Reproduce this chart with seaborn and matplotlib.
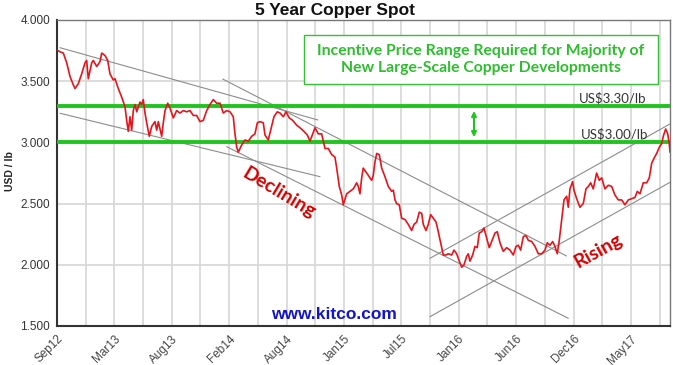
import matplotlib
matplotlib.use("Agg")
import matplotlib.pyplot as plt
from matplotlib.patches import Rectangle
import seaborn as sns

# time axis in "label steps" (0 = Sep12, 1 = Mar13, ... 10 = May17), price in USD/lb
t = [0.000, 0.052, 0.110, 0.169, 0.226, 0.284, 0.314, 0.371, 0.430, 0.488, 0.517, 0.545,
     0.605, 0.632, 0.692, 0.749, 0.779, 0.836, 0.883, 0.923, 0.981, 1.010, 1.068, 1.127,
     1.185, 1.214, 1.242, 1.272, 1.301, 1.329, 1.359, 1.389, 1.446, 1.476, 1.503, 1.533,
     1.563, 1.608, 1.650, 1.707, 1.737, 1.765, 1.824, 1.852, 1.882, 1.929, 1.969, 2.026,
     2.085, 2.143, 2.200, 2.260, 2.317, 2.375, 2.434, 2.491, 2.549, 2.608, 2.666, 2.723,
     2.782, 2.840, 2.897, 2.956, 3.014, 3.071, 3.101, 3.131, 3.159, 3.218, 3.275, 3.333,
     3.392, 3.449, 3.490, 3.537, 3.594, 3.624, 3.681, 3.723, 3.780, 3.838, 3.885, 3.943,
     3.990, 4.047, 4.106, 4.176, 4.233, 4.303, 4.361, 4.408, 4.455, 4.495, 4.552, 4.611,
     4.669, 4.726, 4.786, 4.843, 4.873, 4.918, 4.960, 4.988, 5.047, 5.105, 5.162, 5.221,
     5.249, 5.279, 5.308, 5.336, 5.395, 5.453, 5.483, 5.510, 5.540, 5.570, 5.615, 5.657,
     5.714, 5.772, 5.831, 5.859, 5.889, 5.918, 5.963, 6.005, 6.063, 6.120, 6.179, 6.220,
     6.267, 6.312, 6.354, 6.382, 6.429, 6.469, 6.510, 6.556, 6.603, 6.643, 6.685, 6.730,
     6.777, 6.817, 6.876, 6.916, 6.963, 7.009, 7.051, 7.091, 7.138, 7.166, 7.195, 7.242,
     7.282, 7.322, 7.357, 7.399, 7.439, 7.486, 7.531, 7.573, 7.631, 7.671, 7.718, 7.775,
     7.834, 7.892, 7.950, 7.997, 8.037, 8.078, 8.124, 8.171, 8.211, 8.270, 8.328, 8.385,
     8.444, 8.502, 8.542, 8.589, 8.636, 8.676, 8.716, 8.751, 8.793, 8.833, 8.880, 8.908,
     8.937, 8.984, 9.007, 9.054, 9.111, 9.169, 9.216, 9.256, 9.298, 9.343, 9.402, 9.448,
     9.490, 9.547, 9.605, 9.664, 9.721, 9.779, 9.838, 9.895, 9.953, 10.012, 10.070, 10.110,
     10.157, 10.214, 10.273, 10.319, 10.361, 10.401, 10.448, 10.493, 10.535, 10.563, 10.605,
     10.640, 10.667, 10.681]
price = [3.755, 3.74, 3.73, 3.65, 3.54, 3.47, 3.44, 3.48, 3.56, 3.65, 3.67, 3.52,
         3.65, 3.67, 3.62, 3.66, 3.73, 3.71, 3.67, 3.56, 3.51, 3.52, 3.44, 3.37,
         3.29, 3.18, 3.09, 3.21, 3.10, 3.26, 3.31, 3.25, 3.33, 3.31, 3.35, 3.24,
         3.16, 3.05, 3.13, 3.17, 3.10, 3.17, 3.05, 3.16, 3.26, 3.32, 3.28, 3.20,
         3.26, 3.24, 3.26, 3.25, 3.26, 3.22, 3.22, 3.17, 3.18, 3.26, 3.31, 3.35,
         3.32, 3.32, 3.24, 3.26, 3.25, 3.21, 3.07, 2.96, 2.92, 2.98, 3.02, 3.01,
         3.05, 3.07, 3.16, 3.17, 3.16, 3.06, 3.02, 3.10, 3.21, 3.25, 3.24, 3.21,
         3.25, 3.20, 3.18, 3.14, 3.12, 3.09, 3.06, 3.01, 3.07, 3.12, 3.07, 3.07,
         2.95, 2.95, 2.90, 2.88, 2.79, 2.64, 2.57, 2.49, 2.58, 2.60, 2.62, 2.67,
         2.64, 2.58, 2.71, 2.79, 2.75, 2.71, 2.69, 2.73, 2.84, 2.91, 2.90, 2.79,
         2.72, 2.64, 2.60, 2.61, 2.53, 2.50, 2.49, 2.38, 2.37, 2.33, 2.28, 2.33,
         2.35, 2.43, 2.42, 2.33, 2.28, 2.33, 2.41, 2.38, 2.35, 2.27, 2.18, 2.08,
         2.08, 2.09, 2.08, 2.12, 2.09, 2.03, 1.98, 2.00, 2.07, 2.09, 2.03, 2.08,
         2.15, 2.14, 2.26, 2.27, 2.30, 2.22, 2.14, 2.19, 2.26, 2.27, 2.18, 2.11,
         2.14, 2.12, 2.08, 2.15, 2.16, 2.12, 2.23, 2.24, 2.20, 2.19, 2.15, 2.09,
         2.09, 2.12, 2.18, 2.16, 2.19, 2.15, 2.09, 2.20, 2.37, 2.53, 2.56, 2.47,
         2.62, 2.68, 2.61, 2.54, 2.47, 2.50, 2.62, 2.64, 2.67, 2.62, 2.75, 2.69,
         2.71, 2.62, 2.65, 2.64, 2.57, 2.53, 2.53, 2.49, 2.53, 2.54, 2.55, 2.60,
         2.58, 2.67, 2.67, 2.71, 2.83, 2.87, 2.91, 2.96, 2.99, 3.05, 3.11,
         3.07, 2.99, 2.92]

tick_labels = ["Sep12", "Mar13", "Aug13", "Feb14", "Aug14", "Jan15",
               "Jul15", "Jan16", "Jun16", "Dec16", "May17"]
y_ticks = [1.5, 2.0, 2.5, 3.0, 3.5, 4.0]

# incentive price band
levels = [3.30, 3.00]
level_labels = ["US$3.30/lb", "US$3.00/lb"]

# hand-drawn trend channels (start t, start price, end t, end price)
trend_t0 = [0.05, 2.886, 0.052, 2.956, 6.498, 6.498]
trend_p0 = [3.774, 3.518, 3.238, 2.965, 2.053, 1.576]
trend_t1 = [4.547, 8.878, 4.582, 8.908, 10.70, 10.70]
trend_p1 = [3.183, 2.072, 2.720, 1.563, 3.156, 2.679]

sns.set_theme(style="whitegrid")
plt.rcParams['font.family'] = ['Liberation Sans', 'DejaVu Sans']

fig = plt.figure(figsize=(6.73, 3.65), dpi=100)
ax = fig.add_axes([57 / 673, 1 - 326 / 365, 613 / 673, 306 / 365])
ax.set_facecolor("white")

green = "#1fc41f"

for a, b, c, d in zip(trend_t0, trend_p0, trend_t1, trend_p1):
    ax.plot([a, c], [b, d], color="#8c8c8c", lw=0.8, zorder=2)

for lv in levels:
    ax.axhline(lv, color=green, lw=2.8, zorder=3)

sns.lineplot(x=t, y=price, ax=ax, color="#e5151d", lw=1.2, zorder=4)

ax.set_xlim(0, 10.68)
ax.set_ylim(1.5, 4.0)
ax.set_xticks(range(len(tick_labels)))
ax.set_xticks([i + 0.5 for i in range(len(tick_labels))], minor=True)
ax.set_xticklabels(tick_labels, rotation=45, ha="right", rotation_mode="anchor",
                   fontsize=8.5, color="#444444")
ax.set_yticks(y_ticks)
ax.set_yticklabels([f"{v:.3f}" for v in y_ticks], fontsize=8.5, color="#333333")
ax.grid(which="both", color="#d6d6d6", lw=1.2)
ax.tick_params(axis="both", which="major", length=3, pad=2, color="#555555")
ax.tick_params(axis="x", which="minor", length=0)
ax.set_xlabel("")
ax.set_ylabel("")

for side in ["left", "bottom"]:
    ax.spines[side].set_color("#333333")
    ax.spines[side].set_linewidth(1.5)
for side in ["top", "right"]:
    ax.spines[side].set_color("#777777")
    ax.spines[side].set_linewidth(1.0)

fig.text(0.498, 1 - 10 / 365, "5 Year Copper Spot", ha="center", va="center",
         fontsize=12.5, fontweight="bold", color="#111111")
fig.text(0.015, 0.53, "USD / lb", rotation=90, ha="center", va="center",
         fontsize=7.5, fontweight="bold", color="#222222")

# incentive price box
ax.add_patch(Rectangle((4.303, 3.477), 6.167, 0.40, fill=True, fc="white",
                       ec="#35c035", lw=1.0, zorder=5))
ax.text(7.387, 3.677, "Incentive Price Range Required for Majority of\nNew Large-Scale Copper Developments",
        ha="center", va="center", fontsize=11.3, fontweight="bold", color="#2ebd2e",
        family="Lato", linespacing=1.35, zorder=6)

ax.annotate("", xy=(7.265, 3.02), xytext=(7.265, 3.28),
            arrowprops=dict(arrowstyle="<|-|>", color=green, lw=1.5, mutation_scale=7),
            zorder=6)

for lv, lab, tx in zip(levels, level_labels, [9.677, 9.716]):
    ax.text(tx, lv + 0.012, lab, ha="center", va="bottom", fontsize=9.5,
            color="#333333", family="Lato", zorder=6)

ax.text(3.86, 2.59, "Declining", rotation=-31, ha="center", va="center",
        fontsize=14, fontweight="bold", color="#d40000", family="Lato", zorder=6)
ax.text(9.425, 2.11, "Rising", rotation=29, ha="center", va="center",
        fontsize=14, fontweight="bold", color="#d40000", family="Lato", zorder=6)
ax.text(4.834, 1.59, "www.kitco.com", ha="center", va="center",
        fontsize=12.5, fontweight="bold", color="#1414c8", zorder=6)

fig.savefig("out.png", dpi=100)
